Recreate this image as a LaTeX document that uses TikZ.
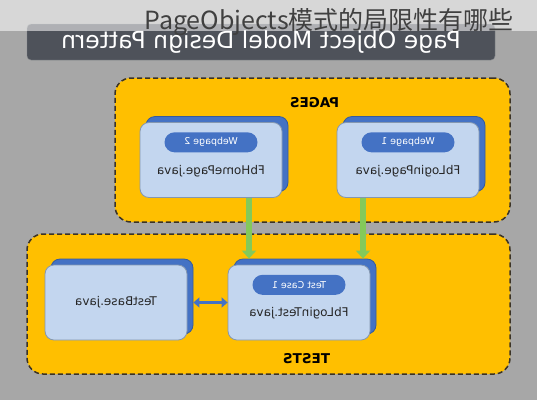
\documentclass[tikz,border=0pt]{standalone}
\usepackage{fontspec}
\setmainfont{DejaVu Sans}
\newfontfamily\cjkfont{Noto Sans CJK SC}
\usepackage{xcolor}
\usepackage{tikz}
\usetikzlibrary{arrows.meta}
\usetikzlibrary{calc}
\usetikzlibrary{positioning}
\usetikzlibrary{shadows}
\tikzset{>=latex}

\definecolor{bggray}{HTML}{A7A7A7}
\definecolor{barcolor}{HTML}{4E525A}
\definecolor{groupfill}{HTML}{FFBF00}
\definecolor{dashcolor}{HTML}{3B3326}
\definecolor{cardfill}{HTML}{C3D6EF}
\definecolor{cardborder}{HTML}{8497B0}
\definecolor{pillblue}{HTML}{4472C4}
\definecolor{arrowgreen}{HTML}{84C95A}

\begin{document}
\begin{tikzpicture}[
        x=1pt, y=-1pt,
        mirror/.style={xscale=-1},
        group/.style={draw=dashcolor, fill=groupfill, line width=1.5pt,
            dash pattern=on 5pt off 3pt, rounded corners=16pt},
        grouplabel/.style={mirror, font=\fontsize{13.5}{13.5}\selectfont\bfseries},
        pagecard/.style={draw=cardborder, fill=cardfill, thick, rounded corners=9pt,
            minimum width=142pt, minimum height=75pt,
            copy shadow={shadow xshift=6pt, shadow yshift=6pt,
                fill=pillblue, draw=pillblue!80!black}},
        pill/.style={mirror, fill=pillblue, text=white, rounded corners=10pt,
            minimum width=93pt, minimum height=20pt, inner sep=0pt,
            font=\fontsize{9.5}{9.5}\selectfont},
        filename/.style={mirror, text=black!85, font=\fontsize{12}{12}\selectfont},
        link/.style={draw=arrowgreen, line width=6pt,
            -{Triangle[length=8pt, width=14pt]}, shorten >=6pt},
        usage/.style={draw=pillblue, line width=3pt,
            {Triangle[length=6pt, width=10pt]}-{Triangle[length=6pt, width=10pt]}}
    ]

    %=== Background and title ===%
    \fill[bggray] (0,0) rectangle (537,400);
    \node[mirror, draw=barcolor!70!white, fill=barcolor, rounded corners=4pt,
        minimum width=468pt, minimum height=36pt, text=white,
        font=\fontsize{23.5}{23.5}\selectfont] (title) at (261,42)
        {Page Object Model Design Pattern};
    \fill[white, opacity=0.55] (0,0) rectangle (537,31);
    \node[anchor=base east, inner sep=0pt, text=black!75,
        font=\cjkfont\fontsize{25}{25}\selectfont] (caption) at (514,29)
        {PageObjects模式的局限性有哪些};

    %=== Card Macro ===%
    \newcommand{\card}[5]{
        \node[pagecard] (#1) at (#2,#3) {};
        \node[pill, below=10pt of #1.north] (#1-tag) {#4};
        \node[filename] (#1-file) at ($(#1.center)+(0,11)$) {#5};
    }

    %=== PAGES ===%
    \node[group, minimum width=395pt, minimum height=144pt] (pages) at (312.5,150) {};
    \node[grouplabel] (pages-label) at ($(pages.north)+(2,25)$) {PAGES};

    \card{home}{211}{160}{Webpage 2}{FbHomePage.java}
    \card{login}{408}{160}{Webpage 1}{FbLoginPage.java}

    %=== TESTS ===%
    \node[group, minimum width=483pt, minimum height=140pt] (tests) at (268.5,304) {};
    \node[grouplabel] (tests-label) at ($(tests.south)+(38,-16)$) {TESTS};

    \node[pagecard] (base) at (116,302.5) {};
    \node[filename] (base-file) at (base.center) {TestBase.java};

    \card{test}{299}{302.5}{Test Case 1}{FbLoginTest.java}

    % connectors
    \draw[link] ([xshift=38pt]home.south) -- ([xshift=38pt]home.south |- test.north);
    \draw[link] ([xshift=-45pt]login.south) -- ([xshift=-45pt]login.south |- test.north);
    \draw[usage] ([xshift=6pt]base.east) -- (test.west);
\end{tikzpicture}
\end{document}
